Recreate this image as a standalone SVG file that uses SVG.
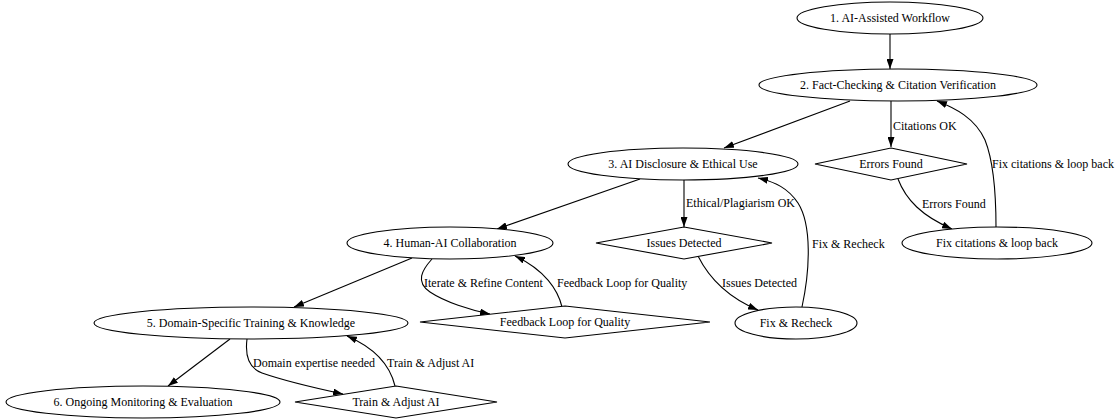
<svg xmlns="http://www.w3.org/2000/svg" width="1120" height="419" viewBox="0 0 1120 419">
<style>
.n{fill:#fff;stroke:#000;stroke-width:1.1}
.t{font-family:"Liberation Serif","Times New Roman",serif;font-size:12px;fill:#000}
.c{text-anchor:middle}
.e{fill:none;stroke:#000;stroke-width:1.1;marker-end:url(#ah)}
</style>
<defs>
<marker id="ah" viewBox="0 0 10 7" refX="10" refY="3.5" markerWidth="10" markerHeight="7" markerUnits="userSpaceOnUse" orient="auto">
<path d="M0,0 L10,3.5 L0,7 z" fill="#000"/>
</marker>
</defs>
<rect width="1120" height="419" fill="#fff"/>
<g id="connectors">
<path class="e" d="M890,34 L890,69"/>
<path class="e" d="M850,101 L724,148"/>
<path class="e" d="M891,101 L891,147"/>
<path class="e" d="M898,179 C906,200 922,216 952,229"/>
<path class="e" d="M996,227 C996,195 993,160 985,140 C975,118 955,108 937,101"/>
<path class="e" d="M640,179 L497,229"/>
<path class="e" d="M684,180 L684,227"/>
<path class="e" d="M698,256 C708,276 727,297 758,310"/>
<path class="e" d="M802,307 C810,270 812,225 798,203 C788,188 775,182 758,178"/>
<path class="e" d="M412,258 L294,307"/>
<path class="e" d="M432,259 C422,270 415,282 430,292 C445,302 470,310 490,314"/>
<path class="e" d="M562,307 C558,290 545,270 515,256"/>
<path class="e" d="M230,339 L168,386"/>
<path class="e" d="M247,339 C245,355 248,368 262,373 C285,381 315,388 343,394"/>
<path class="e" d="M395,386 C390,365 375,348 347,336"/>
<text class="t" x="893" y="130">Citations OK</text>
<text class="t" x="922" y="208">Errors Found</text>
<text class="t" x="992" y="168">Fix citations &amp; loop back</text>
<text class="t" x="686" y="207">Ethical/Plagiarism OK</text>
<text class="t" x="722" y="287">Issues Detected</text>
<text class="t" x="812" y="248">Fix &amp; Recheck</text>
<text class="t" x="424" y="287">Iterate &amp; Refine Content</text>
<text class="t" x="557" y="287">Feedback Loop for Quality</text>
<text class="t" x="253" y="367">Domain expertise needed</text>
<text class="t" x="387" y="367">Train &amp; Adjust AI</text>
</g>
<g id="n1"><ellipse class="n" cx="890" cy="18" rx="93" ry="16"/><text class="t c" x="890" y="22">1. AI-Assisted Workflow</text></g>
<g id="n2"><ellipse class="n" cx="898" cy="85" rx="139" ry="16"/><text class="t c" x="898" y="89">2. Fact-Checking &amp; Citation Verification</text></g>
<g id="n3"><ellipse class="n" cx="683" cy="164" rx="115" ry="16"/><text class="t c" x="683" y="168">3. AI Disclosure &amp; Ethical Use</text></g>
<g id="errors"><polygon class="n" points="891,148 967,164 891,180 815,164"/><text class="t c" x="891" y="168">Errors Found</text></g>
<g id="fixcit"><ellipse class="n" cx="997" cy="243" rx="95" ry="16"/><text class="t c" x="997" y="247">Fix citations &amp; loop back</text></g>
<g id="n4"><ellipse class="n" cx="450" cy="243" rx="103" ry="16"/><text class="t c" x="450" y="247">4. Human-AI Collaboration</text></g>
<g id="issues"><polygon class="n" points="684,227 772,243 684,259 596,243"/><text class="t c" x="684" y="247">Issues Detected</text></g>
<g id="feedback"><polygon class="n" points="565,306 710,322 565,338 420,322"/><text class="t c" x="565" y="326">Feedback Loop for Quality</text></g>
<g id="fixre"><ellipse class="n" cx="796" cy="323" rx="61" ry="16"/><text class="t c" x="796" y="327">Fix &amp; Recheck</text></g>
<g id="n5"><ellipse class="n" cx="251" cy="323" rx="157" ry="16"/><text class="t c" x="251" y="327">5. Domain-Specific Training &amp; Knowledge</text></g>
<g id="n6"><ellipse class="n" cx="143" cy="402" rx="137" ry="16"/><text class="t c" x="143" y="406">6. Ongoing Monitoring &amp; Evaluation</text></g>
<g id="train"><polygon class="n" points="396,386 497,402 396,418 295,402"/><text class="t c" x="396" y="406">Train &amp; Adjust AI</text></g>
</svg>
